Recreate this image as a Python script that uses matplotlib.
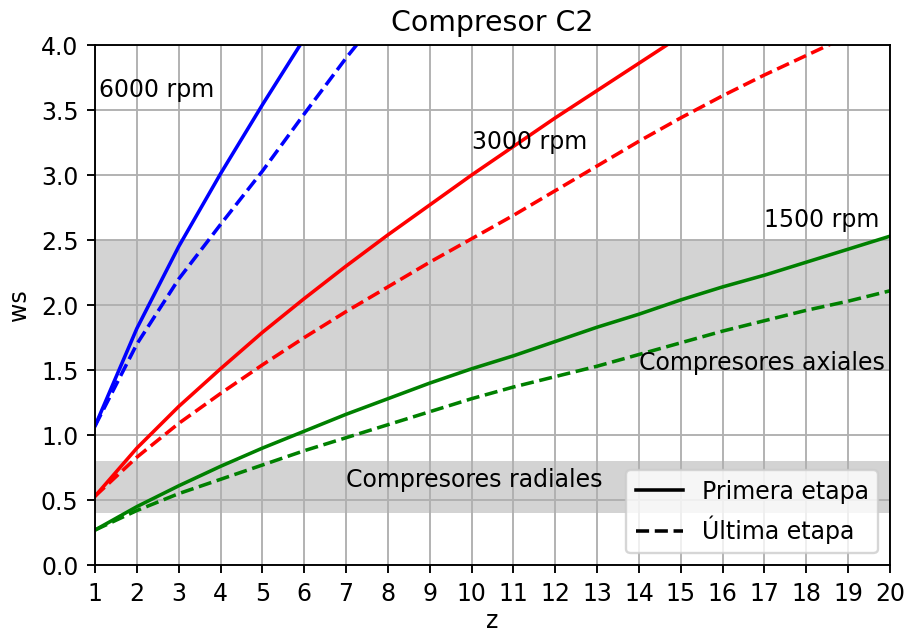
import numpy as np
import matplotlib
matplotlib.use('Agg')
import matplotlib.pyplot as plt

# values
z_1500 = [1, 2, 3, 4, 5, 6, 7, 8, 9, 10, 11, 12, 13, 14, 15, 16, 17, 18, 19, 20]
ws_1500_first = [0.27, 0.45, 0.61, 0.76, 0.90, 1.03, 1.16, 1.28, 1.40, 1.51,
                 1.61, 1.72, 1.83, 1.93, 2.04, 2.14, 2.23, 2.33, 2.43, 2.53]
ws_1500_last = [0.27, 0.42, 0.55, 0.66, 0.77, 0.88, 0.98, 1.08, 1.18, 1.28,
                1.37, 1.45, 1.53, 1.62, 1.71, 1.80, 1.88, 1.96, 2.03, 2.11]

z_3000_first = [1, 2, 3, 4, 5, 6, 7, 8, 9, 10, 11, 12, 13, 14, 15]
ws_3000_first = [0.53, 0.90, 1.22, 1.51, 1.79, 2.05, 2.30, 2.54, 2.77, 3.00,
                 3.22, 3.44, 3.65, 3.86, 4.07]
z_3000_last = [1, 2, 3, 4, 5, 6, 7, 8, 9, 10, 11, 12, 13, 14, 15, 16, 17, 18, 19]
ws_3000_last = [0.53, 0.83, 1.09, 1.32, 1.54, 1.75, 1.95, 2.14, 2.33, 2.51,
                2.69, 2.88, 3.07, 3.26, 3.44, 3.61, 3.77, 3.92, 4.07]

z_6000_first = [1, 2, 3, 4, 5, 6]
ws_6000_first = [1.07, 1.82, 2.45, 3.01, 3.54, 4.05]
z_6000_last = [1, 2, 3, 4, 5, 6, 7, 8]
ws_6000_last = [1.07, 1.70, 2.20, 2.62, 3.03, 3.47, 3.90, 4.30]

DPI = 170
plt.figure(figsize=(909 / DPI, 635 / DPI), dpi=DPI)
ax = plt.axes([0.1045, 0.110, 0.8745, 0.819])

# zonas de compresores
ax.axhspan(1.5, 2.5, color='lightgray', lw=0)
ax.axhspan(0.4, 0.8, color='lightgray', lw=0)

ax.plot(z_6000_first, ws_6000_first, color='b')
ax.plot(z_6000_last, ws_6000_last, color='b', ls='--')
ax.plot(z_3000_first, ws_3000_first, color='r')
ax.plot(z_3000_last, ws_3000_last, color='r', ls='--')
ax.plot(z_1500, ws_1500_first, color='g')
ax.plot(z_1500, ws_1500_last, color='g', ls='--')

ax.text(1.1, 3.6, '6000 rpm')
ax.text(10, 3.2, '3000 rpm')
ax.text(17, 2.6, '1500 rpm')
ax.text(14, 1.5, 'Compresores axiales')
ax.text(7, 0.6, 'Compresores radiales')

# legend handles only
ax.plot([], [], color='k', label='Primera etapa')
ax.plot([], [], color='k', ls='--', label='Última etapa')
ax.legend(loc='lower right')

ax.set_xlim(1, 20)
ax.set_ylim(0, 4)
ax.set_xticks(np.arange(1, 21))
ax.set_yticks(np.arange(0, 4.01, 0.5))
ax.grid(True)
ax.set_xlabel('z', labelpad=1.5)
ax.set_ylabel('ws')
ax.set_title('Compresor C2')

plt.savefig('out.png', dpi=DPI)
